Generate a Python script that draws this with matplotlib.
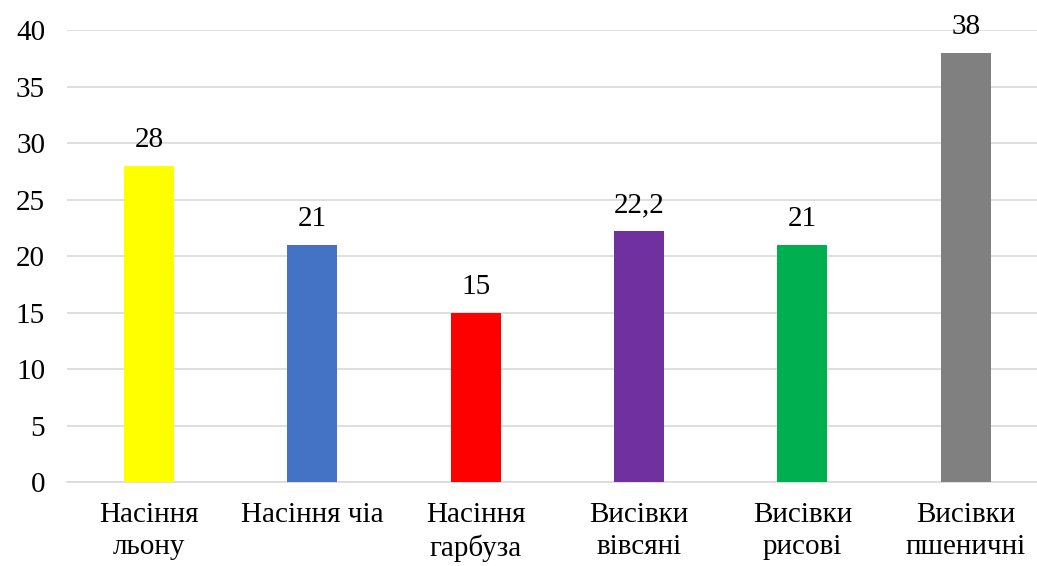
import matplotlib.pyplot as plt
import numpy as np

plt.rcParams['font.family'] = ['Liberation Serif', 'DejaVu Serif']

# data
categories = ['Насіння\nльону', 'Насіння чіа', 'Насіння\nгарбуза',
              'Висівки\nвівсяні', 'Висівки\nрисові', 'Висівки\nпшеничні']
values = [28, 21, 15, 22.2, 21, 38]
value_labels = ['28', '21', '15', '22,2', '21', '38']
colors = ['#FFFF00', '#4472C4', '#FF0000', '#7030A0', '#00B050', '#808080']

fig = plt.figure(figsize=(10.37, 5.66), dpi=100)
# axes runs slightly past the right edge, like the source
ax = fig.add_axes([0.065, 0.148, 0.945, 0.799])

x = np.arange(len(categories))
bars = ax.bar(x, values, width=0.306, color=colors, zorder=3)

for b, lab in zip(bars, value_labels):
    ax.annotate(lab, (b.get_x() + b.get_width() / 2, b.get_height()),
                xytext=(0, 9), textcoords='offset points',
                ha='center', va='bottom', fontsize=21)

ax.set_xlim(-0.5, len(categories) - 0.5)
ax.set_ylim(0, 40)
ax.set_yticks(np.arange(0, 41, 5))
ax.yaxis.grid(True, color='#D9D9D9', linewidth=1.2, zorder=0)
ax.set_xticks(x)
ax.set_xticklabels(categories, fontsize=21, linespacing=1.3)
ax.tick_params(axis='y', labelsize=21, length=0, pad=16)
ax.tick_params(axis='x', length=0, pad=14)

for s in ['top', 'right', 'left']:
    ax.spines[s].set_visible(False)
ax.spines['bottom'].set_color('#D9D9D9')
ax.spines['bottom'].set_linewidth(1.2)

fig.savefig('out.png', dpi=100)
